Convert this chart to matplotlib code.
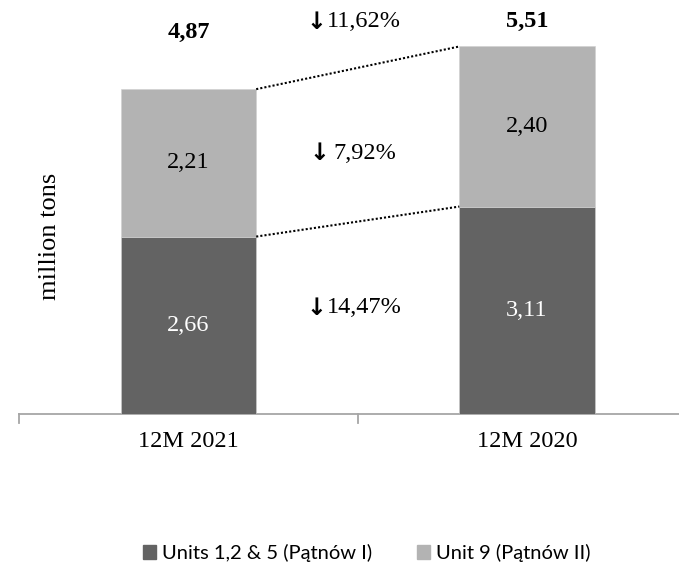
import matplotlib
matplotlib.use("Agg")
import matplotlib.pyplot as plt
from matplotlib.patches import Patch
from matplotlib.transforms import offset_copy

# Data
categories = ["12M 2021", "12M 2020"]
units_125 = [2.66, 3.11]      # Units 1,2 & 5 (Pątnów I)
unit_9 = [2.21, 2.40]         # Unit 9 (Pątnów II)
totals = [4.87, 5.51]
changes = ["11,62%", "7,92%", "14,47%"]   # total, Unit 9, Units 1,2 & 5
series_names = ["Units 1,2 & 5 (Pątnów I)", "Unit 9 (Pątnów II)"]

DARK = "#636363"
LIGHT = "#b3b3b3"
AXIS = "#a6a6a6"
SERIF = ["Liberation Serif", "DejaVu Serif"]
FS = 17.5

W, H = 679, 572
fig = plt.figure(figsize=(W / 100, H / 100), dpi=100)
base_px = 414
ax_bottom = (H - base_px) / H
ax = fig.add_axes([0, ax_bottom, 1, 1 - ax_bottom])

x = [0, 1]
width = 0.40
fmt = lambda v: f"{v:.2f}".replace(".", ",")

ax.bar(x, units_125, width, color=DARK, edgecolor="#d0d0d0", linewidth=0.4, zorder=2)
ax.bar(x, unit_9, width, bottom=units_125, color=LIGHT, edgecolor="#d0d0d0", linewidth=0.4, zorder=2)

# segment labels
for i in x:
    ax.text(i, units_125[i] / 2, fmt(units_125[i]), ha="center", va="center",
            color="white", fontsize=FS, family=SERIF)
    ax.text(i, units_125[i] + unit_9[i] / 2, fmt(unit_9[i]), ha="center", va="center",
            color="black", fontsize=FS, family=SERIF)

# totals above the bars
ax.text(0, 5.72, fmt(totals[0]), ha="center", va="center", fontsize=FS,
        fontweight="bold", family=SERIF)
ax.text(1, 5.88, fmt(totals[1]), ha="center", va="center", fontsize=FS,
        fontweight="bold", family=SERIF)

# dotted connectors between the bars
half = width / 2
ax.plot([0 + half, 1 - half], [totals[0], totals[1]], color="black",
        linestyle=(0, (1, 1)), linewidth=1.5, zorder=3)
ax.plot([0 + half, 1 - half], [units_125[0], units_125[1]], color="black",
        linestyle=(0, (1, 1)), linewidth=1.5, zorder=3)


def change_label(y, text, arrow_dx, text_dx):
    """Heavy down arrow followed by the percentage, placed around the category gap."""
    t_arrow = offset_copy(ax.transData, fig=fig, x=arrow_dx, y=0, units="dots")
    t_text = offset_copy(ax.transData, fig=fig, x=text_dx, y=0, units="dots")
    ax.text(0.5, y, "\u2193", transform=t_arrow, ha="center", va="center",
            fontsize=17, fontweight="bold", family="DejaVu Sans")
    ax.text(0.5, y, text, transform=t_text, ha="left", va="center",
            fontsize=FS, family=SERIF)


change_label(5.88, changes[0], -41, -31)
change_label(3.91, changes[1], -38, -24)
change_label(1.59, changes[2], -41, -31)

px_per_cat = 338.5
ax.set_xlim(-188.5 / px_per_cat, (W - 188.5) / px_per_cat)
ax.set_ylim(0, base_px / 66.7)

for s in ["top", "right", "left", "bottom"]:
    ax.spines[s].set_visible(False)
ax.plot([-0.5, 1.6], [0, 0], color=AXIS, linewidth=1.3, clip_on=False, zorder=1)
ax.set_yticks([])

# category labels and separator ticks
ax.set_xticks(x)
ax.set_xticklabels(categories, fontsize=FS, family=SERIF)
ax.tick_params(axis="x", length=0, pad=12)
for xt in [-0.5, 0.5]:
    ax.plot([xt, xt], [0, -0.14], color=AXIS, linewidth=1.3, clip_on=False)

fig.text(50 / W, 1 - 236 / H, "million tons", rotation=90, ha="center", va="center",
         fontsize=19, family=SERIF)

handles = [Patch(color=DARK), Patch(color=LIGHT)]
fig.legend(handles, series_names, loc="center", bbox_to_anchor=(0.54, 1 - 553 / H),
           ncol=2, frameon=False, handlelength=0.65, handleheight=0.65,
           handletextpad=0.3, columnspacing=2.2, prop={"family": "Lato", "size": 14.5})

fig.savefig("out.png", dpi=100)
